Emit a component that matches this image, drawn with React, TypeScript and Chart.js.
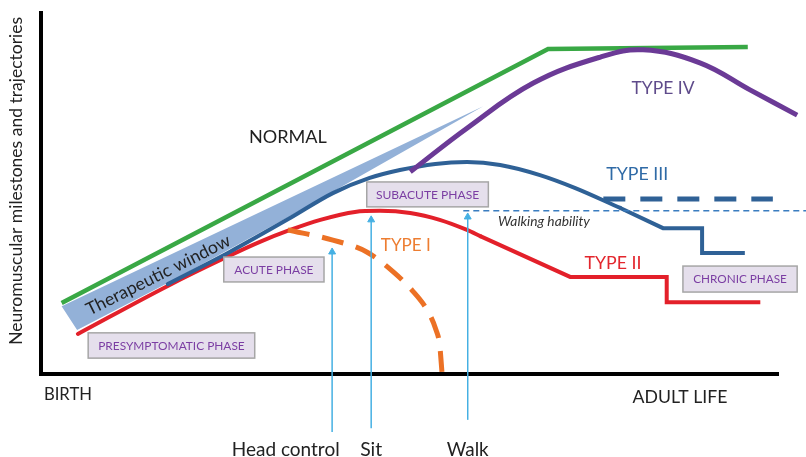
import React, { useEffect, useRef } from 'react';
import { Chart, registerables } from 'chart.js';

Chart.register(...registerables);

type P = [number, number];

// x: life course (0 = birth, 100 = adult life), y: neuromuscular milestones (0-100)
const normal: P[] = [[2.8, 19.7], [68.8, 90.0], [95.9, 90.6]];
const therapeuticWindow: P[] = [[2.8, 18.8], [60.0, 74.2], [41.9, 53.2], [33.8, 43.8], [17.2, 25.2], [4.9, 12.2], [2.8, 18.8]];
const type3Curve: P[] = [[17.2, 24.9], [25.6, 33.8], [33.8, 43.2], [39.6, 50.1], [44.6, 54.3], [48.7, 56.5], [53.5, 58.2], [57.8, 58.7], [62.3, 57.9], [67.7, 55.1], [72.5, 51.5], [78.6, 46.0]];
const type3Tail: P[] = [[78.6, 46.0], [84.4, 40.4], [89.7, 40.4], [89.7, 33.5], [95.5, 33.5]];
const type3Walker: P[] = [[76.3, 48.5], [99.3, 48.5]];
const type2Curve: P[] = [[5.0, 11.1], [17.2, 24.4], [25.2, 32.4], [29.7, 36.6], [33.8, 39.9], [37.9, 42.7], [42.6, 44.9], [46.0, 45.2], [50.1, 44.6], [54.1, 42.7], [57.8, 39.9], [59.6, 38.2]];
const type2Tail: P[] = [[59.6, 38.2], [71.8, 26.9], [84.9, 26.9], [84.9, 19.9], [97.6, 19.9]];
const type4: P[] = [[50.1, 56.0], [57.8, 68.1], [66.8, 80.6], [75.9, 87.8], [81.7, 89.8], [89.4, 86.2], [96.2, 78.7], [102.6, 71.7]];
const type1: P[] = [[33.5, 39.9], [39.6, 37.1], [44.2, 33.8], [47.8, 28.3], [50.3, 23.3], [52.4, 17.7], [53.6, 12.2], [54.1, 8.0], [54.4, 0.6]];
const walkingHability: P[] = [[57.3, 45.2], [103.8, 45.2]];

const milestoneNames = ['Head control', 'Sit', 'Walk'];
const milestoneX = [39.5, 44.8, 57.9];
const milestoneFrom = [-16.1, -15.0, -12.7];
const milestoneTo = [33.8, 42.7, 43.5];

const phaseNames = ['PRESYMPTOMATIC PHASE', 'ACUTE PHASE', 'SUBACUTE PHASE', 'CHRONIC PHASE'];
const phaseX1 = [6.4, 24.8, 44.2, 87.1];
const phaseX2 = [29.0, 38.4, 60.7, 102.6];
const phaseYTop = [11.4, 32.4, 53.2, 29.9];
const phaseYBottom = [4.4, 25.5, 46.3, 22.7];
const phaseTextFill = [0.88, 0.79, 0.85, 0.82];

type Label = { text: string; x: number; y: number; w: number; color: string; align?: CanvasTextAlign; italic?: boolean; rotate?: number };

const labels: Label[] = [
  { text: 'NORMAL', x: 33.5, y: 65.7, w: 78, color: '#1f1f1f' },
  { text: 'TYPE IV', x: 84.4, y: 79.2, w: 63, color: '#5f4b8b' },
  { text: 'TYPE III', x: 80.9, y: 55.4, w: 62, color: '#2f6aa6' },
  { text: 'TYPE II', x: 77.6, y: 30.7, w: 57, color: '#e3262d' },
  { text: 'TYPE I', x: 49.5, y: 35.5, w: 50, color: '#ed7d31' },
  { text: 'Walking hability', x: 62.0, y: 42.1, w: 92, color: '#333333', align: 'left', italic: true },
  { text: 'BIRTH', x: 0.4, y: -5.8, w: 48, color: '#222222', align: 'left' },
  { text: 'ADULT LIFE', x: 86.7, y: -6.4, w: 95, color: '#222222' },
  { text: 'Head control', x: 33.2, y: -21.1, w: 108, color: '#222222' },
  { text: 'Sit', x: 44.8, y: -21.1, w: 22, color: '#222222' },
  { text: 'Walk', x: 57.9, y: -21.1, w: 42, color: '#222222' },
  { text: 'Neuromuscular milestones and trajectories', x: -3.3, y: 53.5, w: 328, color: '#222222', rotate: -90 },
  { text: 'Therapeutic window', x: 15.9, y: 27.4, w: 159, color: '#222222', rotate: -26.57 },
];

const FAMILY = 'Lato, "Open Sans", sans-serif';

function fitFont(ctx: CanvasRenderingContext2D, text: string, w: number, italic = false) {
  ctx.font = `${italic ? 'italic ' : ''}100px ${FAMILY}`;
  const m = ctx.measureText(text).width || 1;
  const size = (100 * w) / m;
  ctx.font = `${italic ? 'italic ' : ''}${size.toFixed(2)}px ${FAMILY}`;
}

const textPlugin = {
  id: 'diagramText',
  afterDatasetsDraw(chart: any) {
    const { ctx, scales } = chart;
    const xs = scales.x;
    const ys = scales.y;
    ctx.save();
    // phase boxes
    phaseNames.forEach((name, i) => {
      const x1 = xs.getPixelForValue(phaseX1[i]);
      const x2 = xs.getPixelForValue(phaseX2[i]);
      const y1 = ys.getPixelForValue(phaseYTop[i]);
      const y2 = ys.getPixelForValue(phaseYBottom[i]);
      ctx.fillStyle = '#e5dfec';
      ctx.fillRect(x1, y1, x2 - x1, y2 - y1);
      ctx.strokeStyle = '#a6a6a6';
      ctx.lineWidth = 1.5;
      ctx.strokeRect(x1, y1, x2 - x1, y2 - y1);
      fitFont(ctx, name, (x2 - x1) * phaseTextFill[i]);
      ctx.fillStyle = '#7b3ea3';
      ctx.textAlign = 'center';
      ctx.textBaseline = 'middle';
      ctx.fillText(name, (x1 + x2) / 2, (y1 + y2) / 2 + 0.5);
    });
    labels.forEach((l) => {
      const px = xs.getPixelForValue(l.x);
      const py = ys.getPixelForValue(l.y);
      ctx.save();
      ctx.translate(px, py);
      if (l.rotate) ctx.rotate((l.rotate * Math.PI) / 180);
      fitFont(ctx, l.text, l.w, l.italic);
      ctx.fillStyle = l.color;
      ctx.textAlign = l.align || 'center';
      ctx.textBaseline = 'middle';
      ctx.fillText(l.text, 0, 0);
      ctx.restore();
    });
    ctx.restore();
  },
};

const pts = (a: P[]) => a.map(([x, y]) => ({ x, y }));

export default function App() {
  const ref = useRef<HTMLCanvasElement | null>(null);
  useEffect(() => {
    if (!ref.current) return;
    const base = { pointRadius: 0, clip: false as any, fill: false };
    const datasets: any[] = [
      { ...base, label: 'Therapeutic window', data: pts(therapeuticWindow), borderWidth: 0, borderColor: 'rgba(0,0,0,0)', backgroundColor: '#93b1d8', fill: 'shape', order: 20 },
      { ...base, label: 'Normal', data: pts(normal), borderColor: '#39a845', borderWidth: 4.5, tension: 0, order: 12 },
      { ...base, label: 'Type II', data: pts(type2Curve), borderColor: '#e3202a', borderWidth: 4, cubicInterpolationMode: 'monotone', borderCapStyle: 'round', order: 11 },
      { ...base, label: 'Type II tail', data: pts(type2Tail), borderColor: '#e3202a', borderWidth: 4, tension: 0, order: 11 },
      { ...base, label: 'Type III', data: pts(type3Curve), borderColor: '#2f6196', borderWidth: 4, cubicInterpolationMode: 'monotone', borderCapStyle: 'round', order: 9 },
      { ...base, label: 'Type III tail', data: pts(type3Tail), borderColor: '#2f6196', borderWidth: 4, tension: 0, order: 9 },
      { ...base, label: 'Type III walker', data: pts(type3Walker), borderColor: '#2f6196', borderWidth: 5, borderDash: [22, 15], tension: 0, order: 9 },
      { ...base, label: 'Type IV', data: pts(type4), borderColor: '#6b3a96', borderWidth: 5, tension: 0.4, order: 8 },
      { ...base, label: 'Type I', data: pts(type1), borderColor: '#ec7125', borderWidth: 5, borderDash: [22, 13], cubicInterpolationMode: 'monotone', order: 7 },
      { ...base, label: 'Walking hability', data: pts(walkingHability), borderColor: '#3a7dc0', borderWidth: 1.5, borderDash: [6, 4], tension: 0, order: 6 },
    ];
    milestoneNames.forEach((name, i) => {
      datasets.push({
        ...base,
        label: name,
        data: [{ x: milestoneX[i], y: milestoneFrom[i] }, { x: milestoneX[i], y: milestoneTo[i] }],
        borderColor: '#45b0e3',
        borderWidth: 1.5,
        tension: 0,
        pointStyle: 'triangle',
        pointRadius: [0, 4],
        pointBackgroundColor: '#45b0e3',
        pointBorderColor: '#45b0e3',
        pointBorderWidth: 1,
        order: 1,
      });
    });
    const chart = new Chart(ref.current, {
      type: 'line',
      data: { datasets },
      options: {
        animation: false,
        responsive: false,
        devicePixelRatio: 1,
        events: [],
        layout: { padding: { left: 41, top: 13, right: 28, bottom: 83 } },
        plugins: { legend: { display: false }, tooltip: { enabled: false }, title: { display: false } },
        scales: {
          x: {
            type: 'linear',
            min: 0,
            max: 100,
            ticks: { display: false },
            grid: { display: false, drawTicks: false },
            border: { display: true, color: '#000', width: 4 },
          },
          y: {
            type: 'linear',
            min: 0,
            max: 100,
            ticks: { display: false },
            grid: { display: false, drawTicks: false },
            border: { display: true, color: '#000', width: 4 },
          },
        },
      },
      plugins: [textPlugin],
    } as any);
    return () => chart.destroy();
  }, []);
  return (
    <div style={{ position: 'fixed', left: 0, top: 0, width: 806, height: 457, background: '#fff' }}>
      <canvas ref={ref} width={806} height={457} style={{ width: 806, height: 457, display: 'block' }} />
    </div>
  );
}
